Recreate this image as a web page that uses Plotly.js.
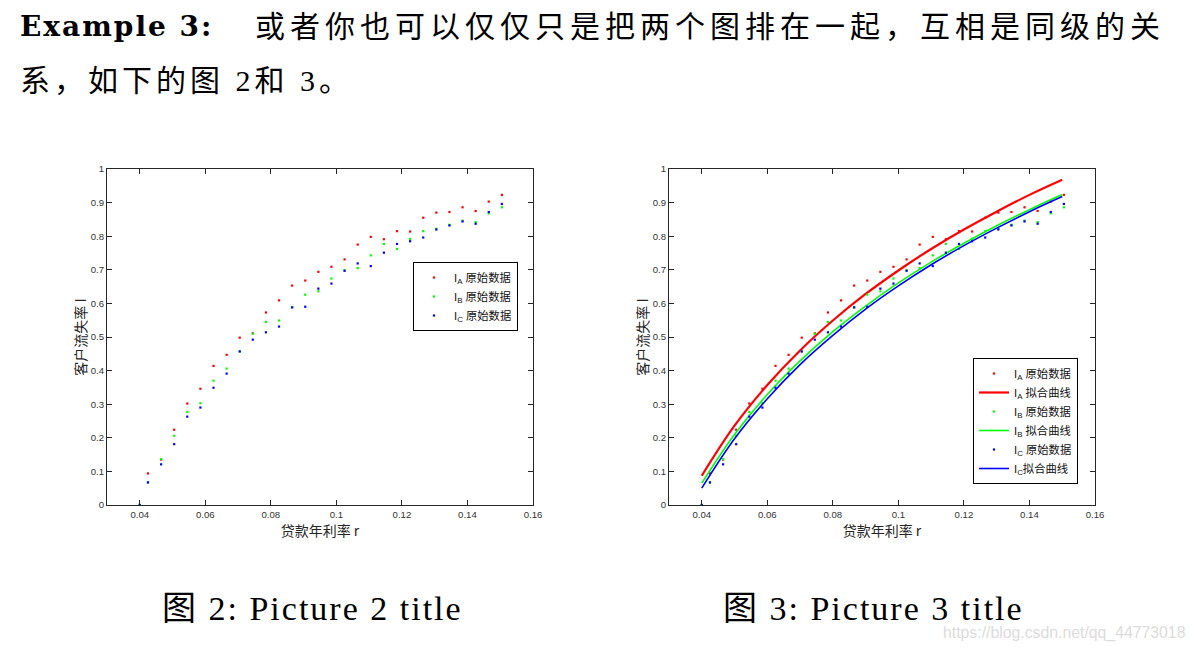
<!DOCTYPE html>
<html>
<head>
<meta charset="utf-8">
<script src="https://cdn.plot.ly/plotly-3.0.1.min.js"></script>
<style>
  html, body { margin: 0; padding: 0; background: #ffffff; }
  #chart { width: 1196px; height: 648px; }
  g.annotation[data-index="0"] text { letter-spacing: 2px; }
  g.annotation[data-index="1"] text { letter-spacing: 5px; }
  g.annotation[data-index="2"] text { letter-spacing: 4px; }
  g.annotation[data-index="3"] text { letter-spacing: 2px; }
  g.annotation[data-index="4"] text { letter-spacing: 2px; }
</style>
</head>
<body>
<div id="chart"></div>
<script>
// ---- data ----
const rateR = [0.04, 0.0425, 0.0465, 0.0505, 0.0545, 0.0585, 0.0625, 0.0665, 0.0705, 0.0745,
               0.0785, 0.0825, 0.0865, 0.0905, 0.0945, 0.0985, 0.1025, 0.1065, 0.1105, 0.1145,
               0.1185, 0.1225, 0.1265, 0.1305, 0.1345, 0.1385, 0.1425, 0.1465, 0.1505];
const rawA = [0, 0.094, 0.135, 0.224, 0.302, 0.346, 0.414, 0.447, 0.498, 0.511,
              0.573, 0.609, 0.653, 0.668, 0.694, 0.709, 0.731, 0.775, 0.798, 0.791,
              0.815, 0.814, 0.855, 0.870, 0.872, 0.886, 0.875, 0.903, 0.923];
const rawB = [0, 0.068, 0.136, 0.206, 0.277, 0.303, 0.370, 0.406, 0.457, 0.510,
              0.545, 0.549, 0.589, 0.626, 0.636, 0.674, 0.699, 0.705, 0.743, 0.777,
              0.762, 0.792, 0.815, 0.822, 0.834, 0.846, 0.842, 0.868, 0.886];
const rawC = [0, 0.067, 0.121, 0.181, 0.263, 0.290, 0.349, 0.391, 0.457, 0.492,
              0.514, 0.531, 0.588, 0.590, 0.644, 0.659, 0.697, 0.719, 0.711, 0.751,
              0.777, 0.785, 0.796, 0.820, 0.832, 0.844, 0.837, 0.872, 0.896];

const fitR = [0.04, 0.05, 0.06, 0.07, 0.08, 0.09, 0.10, 0.11, 0.12, 0.13, 0.14, 0.15];
const fitA = [0.087, 0.236, 0.357, 0.460, 0.549, 0.628, 0.698, 0.762, 0.820, 0.873, 0.923, 0.968];
const fitB = [0.065, 0.210, 0.329, 0.429, 0.516, 0.592, 0.661, 0.723, 0.779, 0.831, 0.879, 0.924];
const fitC = [0.050, 0.197, 0.316, 0.418, 0.505, 0.583, 0.652, 0.715, 0.772, 0.824, 0.873, 0.918];

const xTickVals = [0.04, 0.06, 0.08, 0.10, 0.12, 0.14, 0.16];
const xTickText = ['0.04', '0.06', '0.08', '0.1', '0.12', '0.14', '0.16'];
const yTickVals = [0, 0.1, 0.2, 0.3, 0.4, 0.5, 0.6, 0.7, 0.8, 0.9, 1];
const yTickText = ['0', '0.1', '0.2', '0.3', '0.4', '0.5', '0.6', '0.7', '0.8', '0.9', '1'];

const xTitle = '贷款年利率 r';
const yTitle = '客户流失率 I';
const rawLabel = ['I<sub>A</sub> 原始数据', 'I<sub>B</sub> 原始数据', 'I<sub>C</sub> 原始数据'];
const fitLabel = ['I<sub>A</sub> 拟合曲线', 'I<sub>B</sub> 拟合曲线', 'I<sub>C</sub>拟合曲线'];
const colors = ['#ff0000', '#00ff00', '#0000ff'];

// ---- page geometry helpers ----
const W = 1196, H = 648;
const px = v => v / W;
const py = v => 1 - v / H;

const raws = [rawA, rawB, rawC];
const fits = [fitA, fitB, fitC];
const fitWidths = [2.2, 1.6, 1.6];

const traces = [];
for (let i = 0; i < 3; i++) {
  traces.push({
    type: 'scatter', mode: 'markers', x: rateR, y: raws[i],
    xaxis: 'x', yaxis: 'y', name: rawLabel[i], legend: 'legend',
    marker: { color: colors[i], size: 2.2, symbol: 'square' }
  });
}
for (let i = 0; i < 3; i++) {
  traces.push({
    type: 'scatter', mode: 'markers', x: rateR, y: raws[i],
    xaxis: 'x2', yaxis: 'y2', name: rawLabel[i], legend: 'legend2',
    marker: { color: colors[i], size: 2.2, symbol: 'square' }
  });
  traces.push({
    type: 'scatter', mode: 'lines', x: fitR, y: fits[i],
    xaxis: 'x2', yaxis: 'y2', name: fitLabel[i], legend: 'legend2',
    line: { color: colors[i], width: fitWidths[i], shape: 'spline', smoothing: 1.1 }
  });
}

const tickFont = { family: 'Liberation Sans, Arial, sans-serif', size: 9.6, color: '#333333' };
const titleFont = { family: 'Noto Sans CJK SC, sans-serif', size: 14, color: '#262626' };

function xAxis(domain, anchor) {
  return {
    domain: domain, anchor: anchor, range: [0.03, 0.16],
    tickmode: 'array', tickvals: xTickVals, ticktext: xTickText,
    ticks: 'inside', ticklen: 5, tickwidth: 1, tickcolor: '#262626',
    showline: true, linecolor: '#262626', linewidth: 1, mirror: 'ticks',
    showgrid: false, zeroline: false, tickfont: tickFont,
    title: { text: xTitle, font: titleFont, standoff: 7 }, automargin: false
  };
}
function yAxis(domain, anchor) {
  return {
    domain: domain, anchor: anchor, range: [0, 1],
    tickmode: 'array', tickvals: yTickVals, ticktext: yTickText,
    ticks: 'inside', ticklen: 5, tickwidth: 1, tickcolor: '#262626',
    showline: true, linecolor: '#262626', linewidth: 1, mirror: 'ticks',
    showgrid: false, zeroline: false, tickfont: tickFont,
    title: { text: yTitle, font: titleFont, standoff: 0 }, automargin: false
  };
}

const yDom = [py(505), py(169)];
const legendFont = { family: 'Liberation Sans, Noto Sans CJK SC, sans-serif', size: 11.3, color: '#111111' };

const serif = 'Liberation Serif, Noto Sans CJK SC, serif';
const layout = {
  width: W, height: H,
  margin: { l: 0, r: 0, t: 0, b: 0, pad: 0 },
  paper_bgcolor: '#ffffff', plot_bgcolor: '#ffffff',
  xaxis: xAxis([px(107), px(533)], 'y'),
  yaxis: yAxis(yDom, 'x'),
  xaxis2: xAxis([px(669), px(1095)], 'y2'),
  yaxis2: yAxis(yDom, 'x2'),
  legend: {
    x: px(413), y: py(262), xanchor: 'left', yanchor: 'top',
    bgcolor: '#ffffff', bordercolor: '#000000', borderwidth: 1,
    font: legendFont, itemwidth: 30, tracegroupgap: 0
  },
  legend2: {
    x: px(973), y: py(358), xanchor: 'left', yanchor: 'top',
    bgcolor: '#ffffff', bordercolor: '#000000', borderwidth: 1,
    font: legendFont, itemwidth: 30, tracegroupgap: 0
  },
  annotations: [
    { xref: 'paper', yref: 'paper', x: px(18), y: py(27), xanchor: 'left', yanchor: 'middle', align: 'left',
      showarrow: false, text: '<b>Example 3:</b>',
      font: { family: 'DejaVu Serif, serif', size: 28, color: '#000000' } },
    { xref: 'paper', yref: 'paper', x: px(253), y: py(27), xanchor: 'left', yanchor: 'middle', align: 'left',
      showarrow: false, text: '或者你也可以仅仅只是把两个图排在一起，互相是同级的关',
      font: { family: serif, size: 30, color: '#000000' } },
    { xref: 'paper', yref: 'paper', x: px(18), y: py(80), xanchor: 'left', yanchor: 'middle', align: 'left',
      showarrow: false, text: '系，如下的图 2和 3。',
      font: { family: serif, size: 30, color: '#000000' } },
    { xref: 'paper', yref: 'paper', x: px(312.5), y: py(608), xanchor: 'center', yanchor: 'middle',
      showarrow: false, text: '图 2: Picture 2 title',
      font: { family: serif, size: 34, color: '#000000' } },
    { xref: 'paper', yref: 'paper', x: px(873.5), y: py(608), xanchor: 'center', yanchor: 'middle',
      showarrow: false, text: '图 3: Picture 3 title',
      font: { family: serif, size: 34, color: '#000000' } },
    { xref: 'paper', yref: 'paper', x: px(1188), y: py(633), xanchor: 'right', yanchor: 'middle',
      showarrow: false, text: 'https://blog.csdn.net/qq_44773018',
      font: { family: 'Liberation Sans, Arial, sans-serif', size: 15.8, color: '#dcdcdc' } }
  ]
};

Plotly.newPlot('chart', traces, layout, { staticPlot: true, displayModeBar: false });
</script>
</body>
</html>
